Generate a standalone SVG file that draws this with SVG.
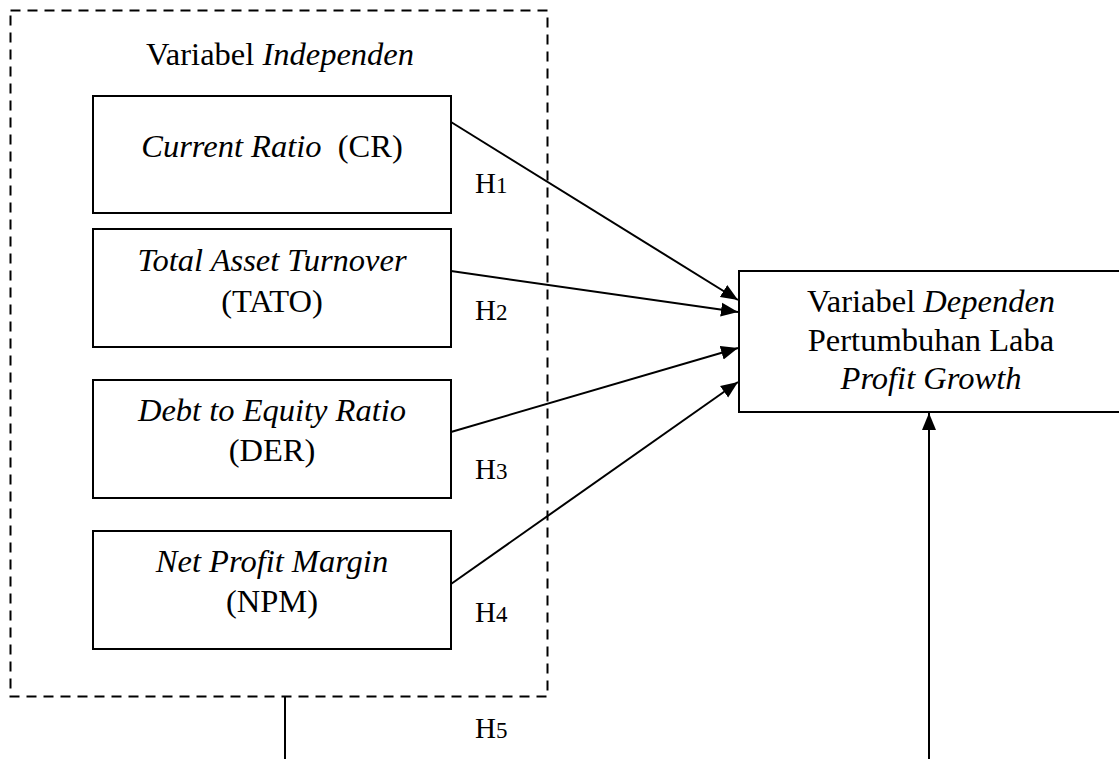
<svg xmlns="http://www.w3.org/2000/svg" width="1119" height="759" viewBox="0 0 1119 759">
<style>
text{font-family:"Liberation Serif","Times New Roman",serif;font-size:32.5px;fill:#000;text-anchor:middle}
.i{font-style:italic}
.h{text-anchor:start;font-size:29px}
.box{fill:#fff;stroke:#000;stroke-width:2}
.dash{fill:none;stroke:#000;stroke-width:2;stroke-dasharray:10 7}
.ln{stroke:#000;stroke-width:2;fill:none}
</style>
<defs>
<marker id="ah" markerUnits="userSpaceOnUse" markerWidth="18" markerHeight="16" viewBox="0 0 18 16" refX="17" refY="8" orient="auto">
<path d="M0,1 L17,8 L0,15 Z" fill="#000"/>
</marker>
</defs>
<rect id="frame" class="dash" x="10.5" y="10.5" width="537" height="686"/>
<text x="280" y="65">Variabel <tspan class="i">Independen</tspan></text>
<g id="cr">
<rect class="box" x="93" y="96" width="358" height="117"/>
<text x="272" y="157"><tspan class="i">Current Ratio</tspan>&#160; (CR)</text>
</g>
<g id="tato">
<rect class="box" x="93" y="229" width="358" height="118"/>
<text x="272" y="271" class="i">Total Asset Turnover</text>
<text x="272" y="312">(TATO)</text>
</g>
<g id="der">
<rect class="box" x="93" y="380" width="358" height="118"/>
<text x="272" y="421" class="i">Debt to Equity Ratio</text>
<text x="272" y="461">(DER)</text>
</g>
<g id="npm">
<rect class="box" x="93" y="531" width="358" height="118"/>
<text x="272" y="572" class="i">Net Profit Margin</text>
<text x="272" y="612">(NPM)</text>
</g>
<g id="dependen">
<rect class="box" x="739" y="271" width="400" height="141"/>
<text x="931" y="312">Variabel <tspan class="i">Dependen</tspan></text>
<text x="931" y="351">Pertumbuhan Laba</text>
<text x="931" y="389" class="i">Profit Growth</text>
</g>
<g id="connectors">
<line class="ln" x1="451" y1="122" x2="738" y2="300" marker-end="url(#ah)"/>
<line class="ln" x1="451" y1="271" x2="738" y2="312" marker-end="url(#ah)"/>
<line class="ln" x1="451" y1="432" x2="738" y2="348" marker-end="url(#ah)"/>
<line class="ln" x1="451" y1="584" x2="738" y2="382" marker-end="url(#ah)"/>
<line class="ln" x1="285" y1="697" x2="285" y2="759"/>
<line class="ln" x1="929" y1="759" x2="929" y2="413" marker-end="url(#ah)"/>
</g>
<g id="labels">
<text class="h" x="475" y="193">H<tspan font-size="23">1</tspan></text>
<text class="h" x="475" y="320">H<tspan font-size="23">2</tspan></text>
<text class="h" x="475" y="479">H<tspan font-size="23">3</tspan></text>
<text class="h" x="475" y="622">H<tspan font-size="23">4</tspan></text>
<text class="h" x="475" y="738">H<tspan font-size="23">5</tspan></text>
</g>
</svg>
